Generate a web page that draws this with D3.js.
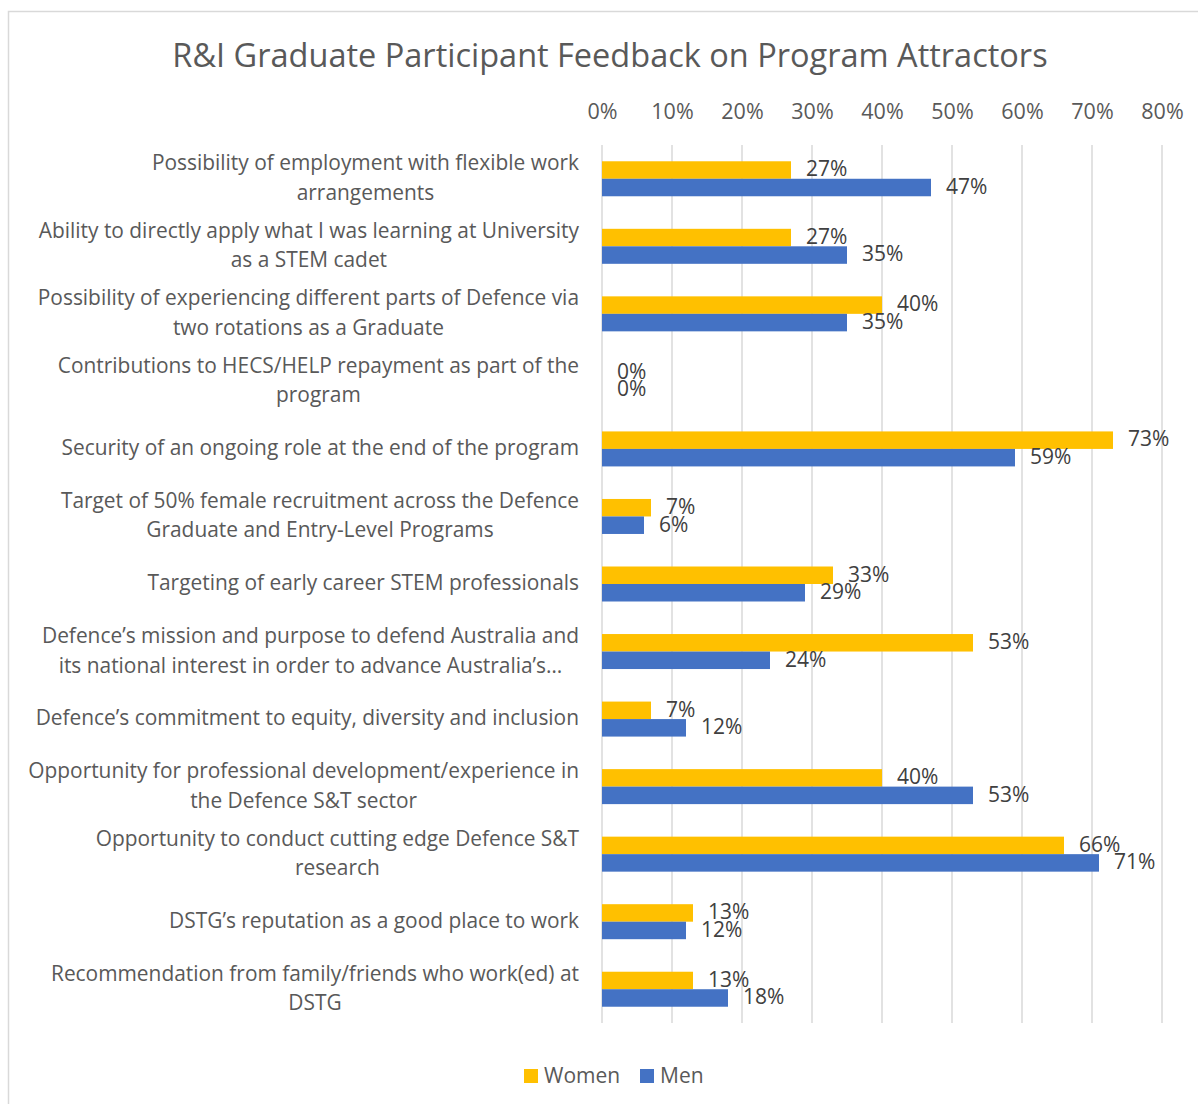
<!DOCTYPE html>
<html>
<head>
<meta charset="utf-8">
<script src="https://cdn.jsdelivr.net/npm/d3@7"></script>
<style>
  html, body { margin: 0; padding: 0; background: #fff; }
  svg { display: block; font-family: "Open Sans", sans-serif; }
</style>
</head>
<body>
<svg id="chart" width="1198" height="1104"></svg>
<script>
const title = "R&I Graduate Participant Feedback on Program Attractors";
const categories = [
  "Possibility of employment with flexible work\narrangements",
  "Ability to directly apply what I was learning at University\nas a STEM cadet",
  "Possibility of experiencing different parts of Defence via\ntwo rotations as a Graduate",
  "Contributions to HECS/HELP repayment as part of the\nprogram",
  "Security of an ongoing role at the end of the program",
  "Target of 50% female recruitment across the Defence\nGraduate and Entry-Level Programs",
  "Targeting of early career STEM professionals",
  "Defence\u2019s mission and purpose to defend Australia and\nits national interest in order to advance Australia\u2019s\u2026",
  "Defence\u2019s commitment to equity, diversity and inclusion",
  "Opportunity for professional development/experience in\nthe Defence S&T sector",
  "Opportunity to conduct cutting edge Defence S&T\nresearch",
  "DSTG\u2019s reputation as a good place to work",
  "Recommendation from family/friends who work(ed) at\nDSTG"
];
const women = [27, 27, 40, 0, 73, 7, 33, 53, 7, 40, 66, 13, 13];
const men   = [47, 35, 35, 0, 59, 6, 29, 24, 12, 53, 71, 12, 18];
const seriesNames = ["Women", "Men"];
const seriesColors = ["#FFC000", "#4472C4"];
const tickValues = [0, 10, 20, 30, 40, 50, 60, 70, 80];

const svg = d3.select("#chart");
const W = 1198, H = 1104;

// outer border
svg.append("rect").attr("x", 8.5).attr("y", 11.5).attr("width", W + 10).attr("height", H + 10)
  .attr("fill", "#fff").attr("stroke", "#d9d9d9").attr("stroke-width", 1.5);

const x = d3.scaleLinear().domain([0, 80]).range([602, 1162]);
const y = d3.scaleBand().domain(d3.range(categories.length)).range([145, 1023]).paddingInner(0).paddingOuter(0);
const barH = 17.5;

// gridlines
svg.append("g").selectAll("line").data(tickValues).join("line")
  .attr("x1", d => x(d)).attr("x2", d => x(d))
  .attr("y1", 145).attr("y2", 1023)
  .attr("stroke", "#d9d9d9").attr("stroke-width", 1.5);

// top axis labels
const axis = d3.axisTop(x).tickValues(tickValues).tickFormat(d => d + "%").tickSize(0).tickPadding(0);
const gAxis = svg.append("g").attr("transform", "translate(0,119)").call(axis);
gAxis.select(".domain").remove();
gAxis.selectAll("text").attr("font-size", 21.5).attr("fill", "#595959")
  .attr("font-family", "Open Sans, sans-serif");

// title
svg.append("text").attr("x", 610).attr("y", 67).attr("text-anchor", "middle")
  .attr("font-size", 32.5).attr("fill", "#595959").text(title);

// bars
const series = [women, men];
series.forEach((vals, si) => {
  const g = svg.append("g");
  g.selectAll("rect").data(vals).join("rect")
    .attr("x", x(0))
    .attr("y", (d, i) => y(i) + y.bandwidth() / 2 - barH + si * barH)
    .attr("width", d => x(d) - x(0))
    .attr("height", barH)
    .attr("fill", seriesColors[si]);
  g.selectAll("text").data(vals).join("text")
    .attr("x", d => x(d) + 15)
    .attr("y", (d, i) => y(i) + y.bandwidth() / 2 - barH / 2 + si * barH)
    .attr("dy", "0.3em")
    .attr("font-size", 21).attr("fill", "#404040")
    .text(d => d + "%");
});

// category labels
const catG = svg.append("g");
categories.forEach((c, i) => {
  const lines = c.split("\n");
  const cy = y(i) + y.bandwidth() / 2;
  const lh = 29.5;
  const t = catG.append("text").attr("font-size", 20.9).attr("fill", "#595959");
  const spans = lines.map((ln, k) => t.append("tspan").text(ln)
      .attr("y", cy + (k - (lines.length - 1) / 2) * lh).attr("dy", "0.3em"));
  const widths = spans.map(s => s.node().getComputedTextLength());
  const maxW = d3.max(widths);
  const centerX = 579 - maxW / 2;
  spans.forEach(s => s.attr("x", centerX).attr("text-anchor", "middle"));
});

// legend
const legend = svg.append("g");
const legX = [524, 640];
seriesNames.forEach((n, i) => {
  legend.append("rect").attr("x", legX[i]).attr("y", 1069).attr("width", 14).attr("height", 14)
    .attr("fill", seriesColors[i]);
  legend.append("text").attr("x", legX[i] + 20).attr("y", 1076).attr("dy", "0.33em")
    .attr("font-size", 21).attr("fill", "#595959").text(n);
});
</script>
</body>
</html>
